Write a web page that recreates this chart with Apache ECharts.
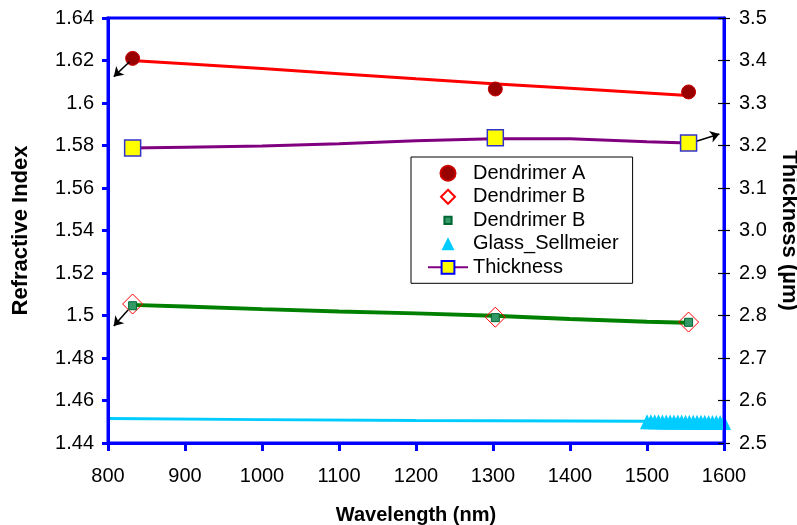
<!DOCTYPE html>
<html><head><meta charset="utf-8">
<script src="https://cdn.jsdelivr.net/npm/echarts@6/dist/echarts.min.js"></script>
<style>html,body{margin:0;padding:0;background:#fff}#c{width:797px;height:525px}</style>
</head><body><div id="c"></div>
<script>
// ---- data ----
const measuredWavelength = [832, 1303, 1554];
const dendrimerA = [1.6210, 1.6066, 1.6052];
const dendrimerBDiamond = [1.5054, 1.4992, 1.4969];
const dendrimerBSquare = [1.5046, 1.4990, 1.4968];
const thicknessMeasured = [3.194, 3.218, 3.206];

const fitWavelength = [830, 900, 1000, 1100, 1200, 1300, 1400, 1500, 1553];
const fitA = [1.6200, 1.6185, 1.6162, 1.6138, 1.6114, 1.6091, 1.6069, 1.6047, 1.6035];
const fitB = [1.5050, 1.5042, 1.5030, 1.5019, 1.5010, 1.4999, 1.4984, 1.4971, 1.4966];
const thicknessCurve = [3.194, 3.196, 3.199, 3.204, 3.211, 3.216, 3.216, 3.209, 3.206];

const glassLineWavelength = [800, 1000, 1200, 1400, 1500];
const glassLine = [1.4515, 1.4510, 1.4506, 1.4503, 1.4502];
const glassWavelength = [1500, 1505, 1510, 1515, 1520, 1525, 1530, 1535, 1540, 1545, 1550,
                         1555, 1560, 1565, 1570, 1575, 1580, 1585, 1590, 1595, 1600];
const glassSellmeier = [1.4500, 1.4500, 1.4500, 1.4500, 1.4499, 1.4499, 1.4499, 1.4499, 1.4499, 1.4499, 1.4498,
                        1.4498, 1.4498, 1.4498, 1.4498, 1.4498, 1.4497, 1.4497, 1.4497, 1.4497, 1.4497];

const xRange = [800, 1600, 100];
const leftRange = [1.44, 1.64, 0.02];
const rightRange = [2.5, 3.5, 0.1];

const legendNames = ['Dendrimer A', 'Dendrimer B', 'Dendrimer B ', 'Glass_Sellmeier', 'Thickness'];

// arrows (start -> tip) in data units
const arrowA = [[828, 1.6194], [807.5, 1.6124]];
const arrowB = [[826, 1.5026], [807.5, 1.4951]];
const arrowT = [[1558, 3.2066], [1594, 3.227]];

// ---- build ----
const zip = (xs, ys) => xs.map((x, i) => [x, ys[i]]);
const FONT = 'Liberation Sans, Arial, sans-serif';
const arrowML = (a) => ({
  silent: true, animation: false, symbol: ['none', 'arrow'], symbolSize: 9,
  label: { show: false },
  lineStyle: { color: '#000', width: 1.5, type: 'solid' },
  emphasis: { disabled: true },
  data: [[{ coord: a[0] }, { coord: a[1] }]]
});

const chart = echarts.init(document.getElementById('c'), null, { renderer: 'canvas' });
chart.setOption({
  animation: false,
  backgroundColor: '#fff',
  textStyle: { fontFamily: FONT },
  grid: { left: 108, right: 73, top: 18, bottom: 82, containLabel: false, outerBoundsMode: 'none',
          show: true, borderColor: '#0000ff', borderWidth: 3, backgroundColor: 'transparent' },
  legend: {
    orient: 'vertical', left: 411, top: 157,
    padding: [6.3, 14, 6, 16],
    backgroundColor: '#fff', borderColor: '#000', borderWidth: 1,
    itemWidth: 40, itemHeight: 16, itemGap: 3.5,
    textStyle: { fontFamily: FONT, fontSize: 20, color: '#000', lineHeight: 20 },
    selectedMode: false,
    data: [
      { name: legendNames[0], icon: 'path://M0,0M16,16M8,0.5A7.5,7.5 0 1 1 7.99,0.5Z' },
      { name: legendNames[1], icon: 'path://M0,0M16,16M8,1L15,8L8,15L1,8Z' },
      { name: legendNames[2], icon: 'path://M0,0M16,16M4.4,4.4h7.2v7.2h-7.2z' },
      { name: legendNames[3], icon: 'path://M0,0M16,16M8,1.5L14.5,14.5H1.5Z' },
      { name: legendNames[4] }
    ]
  },
  xAxis: {
    type: 'value', min: xRange[0], max: xRange[1], interval: xRange[2], z: 5,
    name: 'Wavelength (nm)', nameLocation: 'middle', nameGap: 62,
    nameTextStyle: { fontFamily: FONT, fontSize: 20, fontWeight: 'bold', color: '#000' },
    axisLine: { show: true, lineStyle: { color: '#0000ff', width: 3 } },
    axisTick: { show: true, length: 8, lineStyle: { color: '#0000ff', width: 3 } },
    axisLabel: { fontFamily: FONT, fontSize: 20, color: '#000', margin: 23, formatter: v => String(Math.round(v)) },
    splitLine: { show: false }
  },
  yAxis: [
    {
      type: 'value', position: 'left', min: leftRange[0], max: leftRange[1], interval: leftRange[2], z: 5,
      name: 'Refractive Index', nameLocation: 'middle', nameGap: 76,
      nameTextStyle: { fontFamily: FONT, fontSize: 22, fontWeight: 'bold', color: '#000' },
      axisLine: { show: true, lineStyle: { color: '#0000ff', width: 3 } },
      axisTick: { show: true, length: 6, lineStyle: { color: '#0000ff', width: 3 } },
      axisLabel: { fontFamily: FONT, fontSize: 20, color: '#000', margin: 14, formatter: v => String(+(+v).toFixed(2)) },
      splitLine: { show: false }
    },
    {
      type: 'value', position: 'right', min: rightRange[0], max: rightRange[1], interval: rightRange[2], z: 5,
      name: 'Thickness (\u00b5m)', nameLocation: 'middle', nameGap: 52.5, nameRotate: -90,
      nameTextStyle: { fontFamily: FONT, fontSize: 22, fontWeight: 'bold', color: '#000' },
      axisLine: { show: true, lineStyle: { color: '#0000ff', width: 3 } },
      axisTick: { show: true, length: 6, lineStyle: { color: '#000', width: 1.2 } },
      axisLabel: { fontFamily: FONT, fontSize: 20, color: '#000', margin: 15, formatter: v => (+v).toFixed(1) },
      splitLine: { show: false }
    },
    {
      type: 'value', position: 'right', min: rightRange[0], max: rightRange[1], interval: rightRange[2], z: 6,
      axisLine: { show: false },
      axisTick: { show: true, inside: true, length: 6, lineStyle: { color: '#000', width: 1.2 } },
      axisLabel: { show: false },
      splitLine: { show: false }
    }
  ],
  series: [
    { type: 'line', name: 'glassFit', data: zip(glassLineWavelength, glassLine), yAxisIndex: 0,
      symbol: 'none', lineStyle: { color: '#00ccff', width: 3 }, silent: true, z: 2 },
    { type: 'scatter', name: legendNames[3], data: zip(glassWavelength, glassSellmeier), yAxisIndex: 0,
      symbol: 'triangle', symbolSize: [14, 15], clip: false,
      itemStyle: { color: '#00ccff', opacity: 1 }, z: 3 },
    { type: 'line', name: 'fitB', data: zip(fitWavelength, fitB), yAxisIndex: 0,
      symbol: 'none', lineStyle: { color: '#008000', width: 4 }, silent: true, z: 2 },
    { type: 'line', name: 'fitA', data: zip(fitWavelength, fitA), yAxisIndex: 0,
      symbol: 'none', lineStyle: { color: '#ff0000', width: 3 }, silent: true, z: 2 },
    { type: 'line', name: legendNames[4], data: zip(fitWavelength, thicknessCurve), yAxisIndex: 1,
      symbol: 'rect', showSymbol: false, symbolSize: 16,
      itemStyle: { color: '#ffff00', borderColor: '#0000ff', borderWidth: 1 },
      lineStyle: { color: '#800080', width: 3 }, z: 2 },
    { type: 'scatter', name: legendNames[0], data: zip(measuredWavelength, dendrimerA), yAxisIndex: 0,
      symbol: 'circle', symbolSize: 14,
      itemStyle: { color: '#990000', borderColor: '#cc0000', borderWidth: 1, opacity: 1 }, z: 4,
      markLine: arrowML(arrowA) },
    { type: 'scatter', name: legendNames[1], data: zip(measuredWavelength, dendrimerBDiamond), yAxisIndex: 0,
      symbol: 'diamond', symbolSize: 20,
      itemStyle: { color: 'rgba(255,255,255,0)', borderColor: '#ff0000', borderWidth: 1, opacity: 1 }, z: 4,
      markLine: arrowML(arrowB) },
    { type: 'scatter', name: legendNames[2], data: zip(measuredWavelength, dendrimerBSquare), yAxisIndex: 0,
      symbol: 'rect', symbolSize: 8,
      itemStyle: { color: '#339966', borderColor: '#006633', borderWidth: 1, opacity: 1 }, z: 5 },
    { type: 'scatter', name: 'thicknessPts', data: zip(measuredWavelength, thicknessMeasured), yAxisIndex: 1,
      symbol: 'rect', symbolSize: 16,
      itemStyle: { color: '#ffff00', borderColor: '#3333cc', borderWidth: 1.5, opacity: 1 }, z: 5,
      markLine: arrowML(arrowT) }
  ]
});
</script></body></html>
